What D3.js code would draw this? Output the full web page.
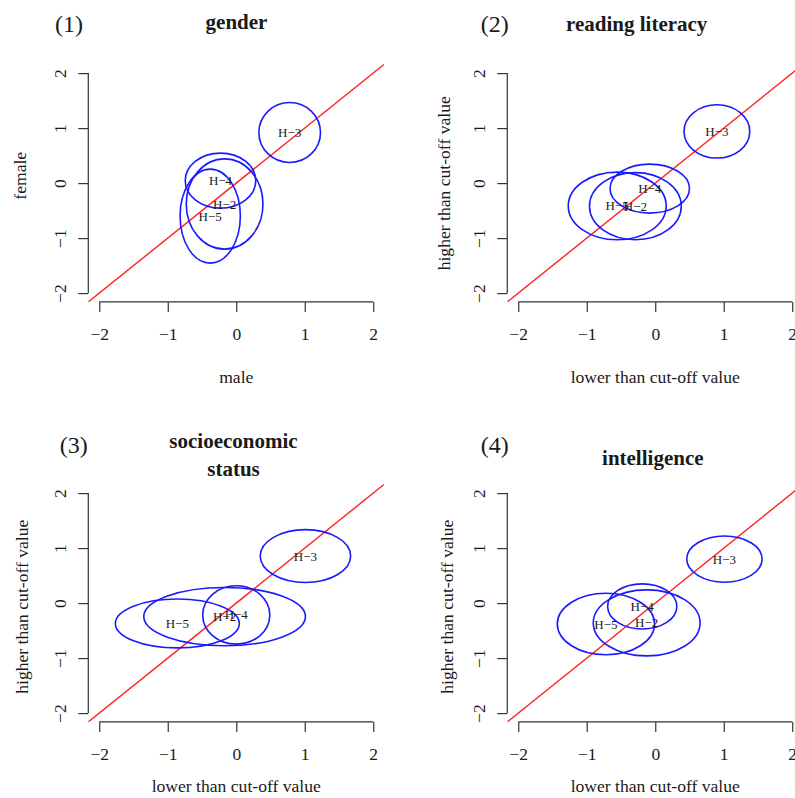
<!DOCTYPE html>
<html>
<head>
<meta charset="utf-8">
<script src="https://cdn.jsdelivr.net/npm/d3@7"></script>
<style>
  html, body { margin: 0; padding: 0; background: #fff; }
  svg { display: block; }
  text { font-family: "Liberation Serif", "Times New Roman", serif; fill: #1a1a1a; }
</style>
</head>
<body>
<script>
// ---------- data ----------
const panelTags = ["(1)", "(2)", "(3)", "(4)"];
const panelTitles = [["gender"], ["reading literacy"], ["socioeconomic", "status"], ["intelligence"]];
const xTitles = ["male", "lower than cut-off value", "lower than cut-off value", "lower than cut-off value"];
const yTitles = ["female", "higher than cut-off value", "higher than cut-off value", "higher than cut-off value"];
const groups = ["H−2", "H−3", "H−4", "H−5"];
const tickValues = [-2, -1, 0, 1, 2];
const axisDomain = [-2.16, 2.16];

// rows follow `groups`: [centre x, centre y, radius x, radius y]
const gender       = [[-0.17, -0.38, 0.56, 0.82], [0.78, 0.92, 0.45, 0.545], [-0.23, 0.045, 0.515, 0.50], [-0.38, -0.60, 0.44, 0.855]];
const reading      = [[-0.29, -0.42, 0.67, 0.61], [0.90, 0.94, 0.48, 0.485], [-0.08, -0.10, 0.58, 0.445], [-0.555, -0.415, 0.715, 0.615]];
const socioeconomic= [[-0.17, -0.245, 1.18, 0.53], [1.01, 0.855, 0.66, 0.48], [0.00, -0.215, 0.49, 0.53], [-0.86, -0.37, 0.905, 0.445]];
const intelligence = [[-0.125, -0.36, 0.78, 0.60], [1.01, 0.80, 0.55, 0.42], [-0.19, -0.06, 0.505, 0.41], [-0.72, -0.38, 0.71, 0.56]];
const panelData = [gender, reading, socioeconomic, intelligence];

// ---------- layout ----------
const W = 795, H = 798;
const offsets = [[0, 0], [419, 0], [0, 420], [419, 420]];
const L = 88.3, R = 384.2, T = 64.3, B = 301.9;
const layout = [
  { tagX: 69, tagY: 31.7, titleX: 236.5, titleY: [29.3], xtY: 383.3, ytX: 26.3, ytY: 175.8 },
  { tagX: 75.7, tagY: 31.7, titleX: 217.7, titleY: [31], xtY: 382.7, ytX: 31, ytY: 183.3 },
  { tagX: 73.7, tagY: 33.3, titleX: 233.5, titleY: [28.3, 56], xtY: 371.7, ytX: 28.3, ytY: 186.7 },
  { tagX: 75.7, tagY: 33.3, titleX: 233.8, titleY: [45], xtY: 371.7, ytX: 33.7, ytY: 186.7 }
];

const svg = d3.select("body").append("svg").attr("width", W).attr("height", H);
svg.append("rect").attr("width", W).attr("height", H).attr("fill", "#fff");

const x = d3.scaleLinear().domain(axisDomain).range([L, R]);
const y = d3.scaleLinear().domain(axisDomain).range([B, T]);
const fmt = d3.format("d");

svg.append("defs").append("clipPath").attr("id", "plotclip")
  .append("rect").attr("x", L).attr("y", T).attr("width", R - L).attr("height", B - T);

panelData.forEach((rows, i) => {
  const lay = layout[i];
  const g = svg.append("g").attr("transform", `translate(${offsets[i][0]},${offsets[i][1]})`);

  // x axis
  const xa = g.append("g").attr("transform", `translate(0,${B})`)
    .call(d3.axisBottom(x).tickValues(tickValues).tickFormat(fmt).tickSize(10).tickSizeOuter(0));
  xa.select(".domain").remove();
  xa.append("line").attr("x1", x(tickValues[0])).attr("x2", x(tickValues[tickValues.length - 1]))
    .attr("stroke", "#333").attr("stroke-width", 1.2);
  xa.selectAll(".tick line").attr("stroke", "#333").attr("stroke-width", 1.2);
  xa.selectAll(".tick text").attr("y", 37.8).attr("dy", 0)
    .style("font-family", '"Liberation Serif", serif').style("font-size", "17.5px").attr("fill", "#1a1a1a");

  // y axis
  const ya = g.append("g").attr("transform", `translate(${L},0)`)
    .call(d3.axisLeft(y).tickValues(tickValues).tickFormat(fmt).tickSize(10).tickSizeOuter(0));
  ya.select(".domain").remove();
  ya.append("line").attr("y1", y(tickValues[0])).attr("y2", y(tickValues[tickValues.length - 1]))
    .attr("stroke", "#333").attr("stroke-width", 1.2);
  ya.selectAll(".tick line").attr("stroke", "#333").attr("stroke-width", 1.2);
  ya.selectAll(".tick text").attr("x", 0).attr("dy", 0).attr("text-anchor", "middle")
    .attr("transform", "translate(-22.7,0) rotate(-90)")
    .style("font-family", '"Liberation Serif", serif').style("font-size", "17.5px").attr("fill", "#1a1a1a");

  // diagonal reference line y = x
  const plot = g.append("g").attr("clip-path", "url(#plotclip)");
  plot.append("line")
    .attr("x1", x(axisDomain[0])).attr("y1", y(axisDomain[0]))
    .attr("x2", x(axisDomain[1])).attr("y2", y(axisDomain[1]))
    .attr("stroke", "#ff2020").attr("stroke-width", 1.4);

  // ellipses
  g.selectAll("ellipse").data(rows).join("ellipse")
    .attr("cx", d => x(d[0])).attr("cy", d => y(d[1]))
    .attr("rx", d => x(d[0] + d[2]) - x(d[0]))
    .attr("ry", d => y(d[1]) - y(d[1] + d[3]))
    .attr("fill", "none").attr("stroke", "#1a1aff").attr("stroke-width", 1.6);

  g.selectAll("text.lab").data(rows).join("text").attr("class", "lab")
    .attr("x", d => x(d[0])).attr("y", d => y(d[1])).attr("dy", "0.35em")
    .attr("text-anchor", "middle").style("font-size", "13px")
    .text((d, k) => groups[k]);

  // titles
  g.append("text").attr("x", lay.tagX).attr("y", lay.tagY).attr("text-anchor", "middle")
    .style("font-size", "24px").text(panelTags[i]);
  panelTitles[i].forEach((t, k) => {
    g.append("text").attr("x", lay.titleX).attr("y", lay.titleY[k]).attr("text-anchor", "middle")
      .style("font-size", "21px").style("font-weight", "bold").text(t);
  });
  g.append("text").attr("x", (L + R) / 2).attr("y", lay.xtY).attr("text-anchor", "middle")
    .style("font-size", "17.6px").text(xTitles[i]);
  g.append("text").attr("transform", `translate(${lay.ytX},${lay.ytY}) rotate(-90)`)
    .attr("text-anchor", "middle").style("font-size", "17.6px").text(yTitles[i]);
});
</script>
</body>
</html>
